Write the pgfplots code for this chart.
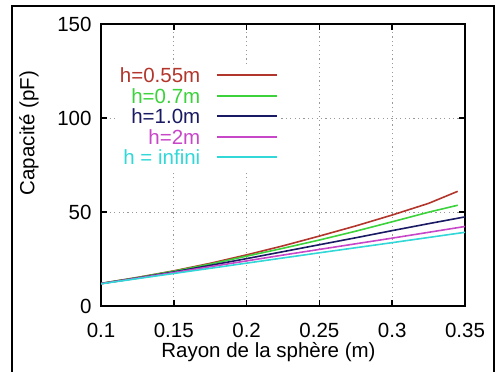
\documentclass[border=0pt]{standalone}
\usepackage{fontspec}
\setmainfont{Liberation Sans}
\usepackage{pgfplots}
\pgfplotsset{compat=1.18}
\definecolor{cred}{RGB}{178,54,44}
\definecolor{cgreen}{RGB}{60,210,60}
\definecolor{cblue}{RGB}{25,25,100}
\definecolor{cmag}{RGB}{200,70,200}
\definecolor{ccyan}{RGB}{50,215,215}
\newcommand{\bigf}{\fontsize{20.5bp}{24bp}\selectfont}
\newcommand{\lstrut}{\rule[-6bp]{0pt}{22bp}}
\newcommand{\lgap}{\rule{14bp}{0pt}}
\begin{document}
\begin{tikzpicture}
\begin{axis}[
  at={(101bp,-306bp)}, anchor=south west,
  scale only axis, width=364bp, height=282bp,
  xmin=0.1, xmax=0.35, ymin=0, ymax=150,
  xtick={0.1,0.15,0.2,0.25,0.3,0.35},
  xticklabels={0.1,0.15,0.2,0.25,0.3,0.35},
  ytick={0,50,100,150},
  /pgf/number format/assume math mode=true,
  tick label style={font=\bigf},
  label style={font=\bigf},
  xticklabel style={anchor=base, yshift=-31bp},
  yticklabel style={xshift=-6bp},
  tick align=inside,
  major tick length=6bp,
  every tick/.style={black, line width=1.5bp},
  axis line style={line width=1.8bp},
  grid=major,
  major grid style={gray!80, line width=1bp, dash pattern=on 1.2bp off 3.2bp},
  xlabel={Rayon de la sphère (m)},
  ylabel={Capacité (pF)},
  xlabel style={at={(axis description cs:0.46,-0.184)}, anchor=base},
  ylabel style={at={(axis description cs:-0.198,0.613)}, anchor=center},
  legend plot pos=right,
  legend cell align=right,
  legend style={at={(axis description cs:0.489,0.858)}, anchor=north east,
    draw=white, fill=white, font=\bigf, inner sep=1bp,
    nodes={inner sep=1.5bp}},
  legend image code/.code={\draw[#1,line width=2bp] (0bp,0bp) -- (60bp,0bp);},
  every axis plot/.append style={line width=1.6bp, no marks},
]
\addplot[cred] coordinates {(0.1,12.0)(0.125,15.2)(0.15,18.7)(0.175,22.7)(0.2,27.2)(0.225,32.0)(0.25,37.2)(0.275,42.6)(0.3,48.4)(0.325,54.6)(0.345,61.0)};
\addlegendentry{\lstrut\textcolor{cred}{h=0.55m}\lgap}
\addplot[cgreen] coordinates {(0.1,12.0)(0.125,15.1)(0.15,18.5)(0.175,22.3)(0.2,26.5)(0.225,30.7)(0.25,35.1)(0.275,39.8)(0.3,44.8)(0.325,49.9)(0.345,53.6)};
\addlegendentry{\lstrut\textcolor{cgreen}{h=0.7m}\lgap}
\addplot[cblue] coordinates {(0.1,11.9)(0.125,14.9)(0.15,18.1)(0.175,21.6)(0.2,25.2)(0.225,28.9)(0.25,32.6)(0.275,36.3)(0.3,40.1)(0.325,43.8)(0.35,47.4)};
\addlegendentry{\lstrut\textcolor{cblue}{h=1.0m}\lgap}
\addplot[cmag] coordinates {(0.1,11.9)(0.125,14.8)(0.15,17.8)(0.175,20.9)(0.2,24.0)(0.225,27.1)(0.25,30.1)(0.275,33.1)(0.3,36.1)(0.325,39.2)(0.35,42.3)};
\addlegendentry{\lstrut\textcolor{cmag}{h=2m}\lgap}
\addplot[ccyan] coordinates {(0.1,11.8)(0.15,17.3)(0.2,22.8)(0.25,28.3)(0.3,33.7)(0.35,39.2)};
\addlegendentry{\lstrut\textcolor{ccyan}{h = infini}\lgap}
\end{axis}
\draw[line width=2bp] (12bp,-372bp) -- (12bp,-6bp) -- (493.5bp,-6bp) -- (493.5bp,-372bp);
\pgfresetboundingbox
\useasboundingbox (0bp,0bp) rectangle (495bp,-372bp);
\end{tikzpicture}
\end{document}
